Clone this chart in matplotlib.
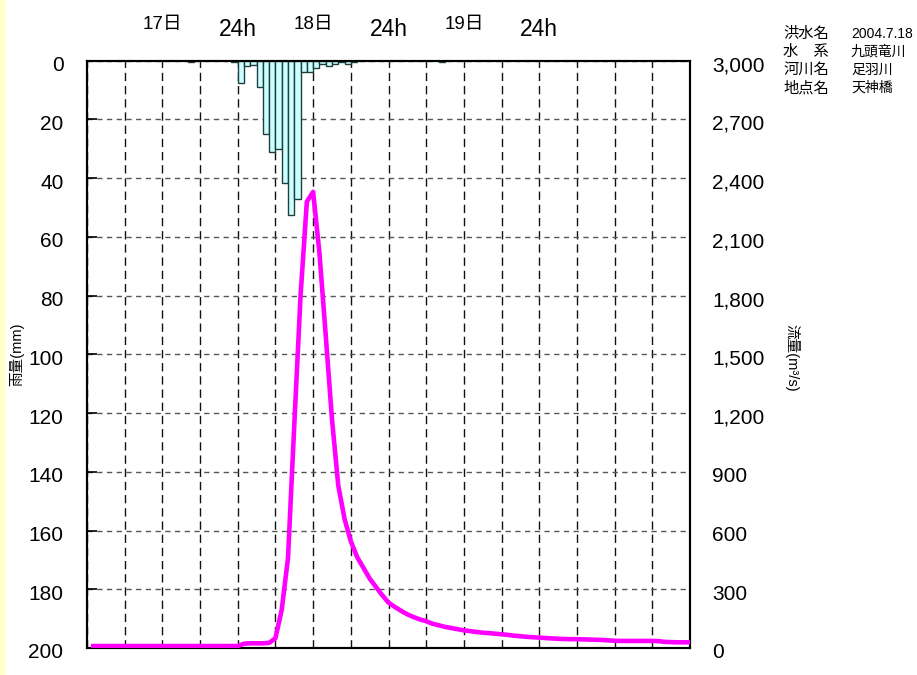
"""
Hyetograph + hydrograph, 天神橋 2004.7.18
"""
import numpy as np
import matplotlib.pyplot as plt
import matplotlib.transforms as mtransforms
from matplotlib.patches import Rectangle

# pylint: disable=C0103

JP = ['Liberation Sans', 'Noto Sans CJK JP']
plt.rcParams['font.family'] = JP

# hourly rainfall (mm), bar starts at hour
rain_hours = [16, 23, 24, 25, 26, 27, 28, 29, 30, 31, 32, 33, 34, 35, 36, 37, 38, 39, 40, 41, 42, 56]
rain_mm = [0.3, 0.5, 7.6, 1.7, 1.5, 9.0, 24.8, 31.0, 30.0, 41.5, 52.5, 47.0,
           3.8, 3.8, 2.4, 1.2, 1.7, 1.0, 0.6, 1.2, 0.6, 0.3]

# hourly discharge (m3/s), hours 1..96
q_hours = np.arange(1, 97)
q_flow = [10] * 24 + [
    22, 24, 24, 24, 26, 50, 195, 460, 1140, 1800, 2280, 2330,
    2020, 1600, 1170, 830, 660, 545, 465, 410, 355, 312, 270, 232,
    210, 190, 172, 158, 146, 137, 124, 116, 108, 102, 96, 90,
    86, 82, 78, 76, 73, 70, 67, 63, 60, 57, 55, 53,
    51, 49, 47, 46, 45, 45, 44, 43, 42, 41, 39, 37,
    36, 36, 36, 36, 36, 36, 35, 31, 30, 29, 29, 29]

# top time labels
day_pos = [12, 36, 60]
day_labels = ['17日', '18日', '19日']
h24_pos = [24, 48, 72]

info_keys = ['洪水名', '水\u3000系', '河川名', '地点名']
info_vals = ['2004.7.18', '九頭竜川', '足羽川', '天神橋']

fig = plt.figure(figsize=(9.17, 6.75), dpi=100)
fig.patches.append(Rectangle((0, 0), 6 / 917, 1, transform=fig.transFigure,
                             facecolor='#FFFFCC', edgecolor='none'))

ax = fig.add_axes([87 / 917, 1 - 648 / 675, 603 / 917, 587.3 / 675])
ax2 = ax.twinx()

# rainfall bars (inverted axis)
ax.bar(rain_hours, rain_mm, width=1, align='edge', color='#CCFFFF',
       edgecolor='#1F3F3F', linewidth=1, zorder=3)
ax.set_ylim(200, 0)
ax.set_xlim(0, 96)
ax.set_yticks(range(0, 201, 20))
ax.set_xticks(range(0, 97, 6))
ax.set_xticklabels([])
ax.tick_params(axis='x', length=0)
ax.tick_params(axis='y', direction='in', length=7, width=1.2, pad=17, labelsize=15)
ax.xaxis.grid(True, color='#111111', linestyle=(0, (6, 3.5)), linewidth=1)
ax.yaxis.grid(True, color='#555555', linestyle=(0, (3.8, 3.2)), linewidth=1)
ax.set_axisbelow(True)

# discharge line
ax2.plot(q_hours, q_flow, color='#FF00FF', linewidth=3.3, zorder=4)
ax2.set_ylim(0, 3000)
ax2.set_yticks(range(0, 3001, 300))
ax2.set_yticklabels(['{:,}'.format(v) for v in range(0, 3001, 300)])
ax2.tick_params(axis='y', length=0, pad=16, labelsize=15)

# tick labels sit a little below the grid lines
shift = mtransforms.ScaledTranslation(0, -3 / 100, fig.dpi_scale_trans)
for lab in ax.get_yticklabels() + ax2.get_yticklabels():
    lab.set_transform(lab.get_transform() + shift)

for a in (ax, ax2):
    for sp in a.spines.values():
        sp.set_linewidth(1.5)
        sp.set_color('black')

# top labels
for x, lab in zip(day_pos, day_labels):
    ax.text(x, 1 + 36 / 587.3, lab, transform=ax.get_xaxis_transform(),
            ha='center', va='center', fontsize=13.5, family=JP)
for x in h24_pos:
    ax.text(x, 1 + 31 / 587.3, '24h', transform=ax.get_xaxis_transform(),
            ha='center', va='center', fontsize=16.5)

# axis titles
fig.text(17 / 917, 1 - 354 / 675, '雨量(mm)', rotation=90, ha='center', va='center',
         fontsize=10.5, family=JP)
fig.text(792 / 917, 1 - 358 / 675, '流量(m³/s)', rotation=270, ha='center', va='center',
         fontsize=10.5, family=JP)

# info block
for i, (k, v) in enumerate(zip(info_keys, info_vals)):
    y = 1 - (34 + i * 18) / 675
    fig.text(783 / 917, y, k, ha='left', va='center', fontsize=11, family=JP)
    fig.text(851 / 917, y, v, ha='left', va='center', fontsize=10, family=JP)

plt.savefig('out.png', dpi=100)
